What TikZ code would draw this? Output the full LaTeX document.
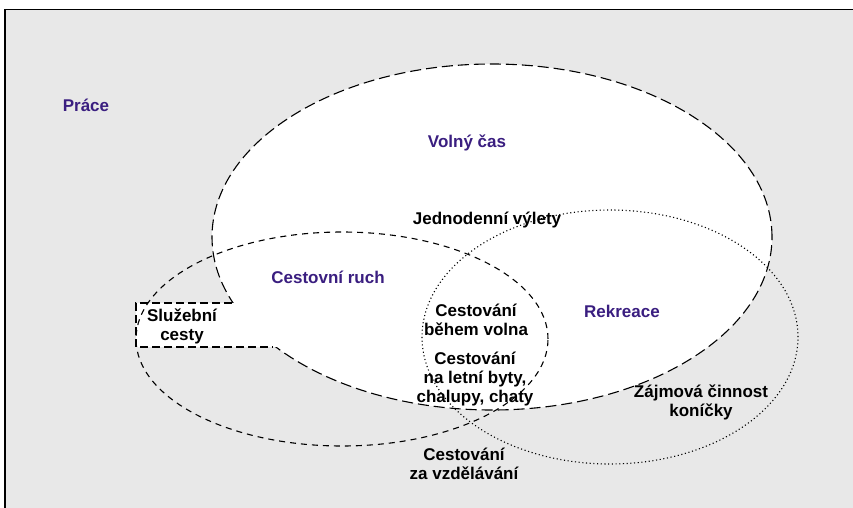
\documentclass[tikz,border=0pt]{standalone}
\usepackage{fontspec}
\setmainfont{Liberation Sans}
\definecolor{fialova}{RGB}{58,30,128}
\definecolor{seda}{RGB}{232,232,232}
\tikzset{popis/.style={font=\bfseries\fontsize{17}{19}\selectfont,align=center,inner sep=0pt},
  nadpis/.style={popis,text=fialova},
  carka/.style={line width=1.1pt,dash pattern=on 11pt off 5pt},
  kratka/.style={line width=1.1pt,dash pattern=on 6pt off 5pt},
  tecka/.style={line width=1.1pt,dash pattern=on 1.1pt off 2.6pt}}
\begin{document}
\begin{tikzpicture}[x=1pt,y=-1pt]
\useasboundingbox(0,0)rectangle(853,508);
\fill[seda](5,9.5)rectangle(853,508);
\draw[line width=1.6pt](5,508)--(5,9.5)--(853,9.5);
\fill[white](492,237)ellipse[x radius=280pt,y radius=173pt];
\draw[carka](492,237)ellipse[x radius=280pt,y radius=173pt];
\fill[white](136,303)rectangle(285,347);
\draw[line width=1.1pt,dash pattern=on 8pt off 4pt](232,303)--(136,303)--(136,347)--(273,347);
\draw[kratka](342,339)ellipse[x radius=206pt,y radius=107pt];
\draw[tecka](610,337)ellipse[x radius=188pt,y radius=127pt];
\node[nadpis](prace)at(86,105){Práce};
\node[nadpis](volny)at(467,143){Volný čas};
\node[popis](jednodenni)at(487,220){Jednodenní výlety};
\node[nadpis](ruch)at(328,277){Cestovní ruch};
\node[popis](sluzebni)at(182,326){Služební\\cesty};
\node[popis](volno)at(476,320){Cestování\\během volna};
\node[nadpis](rekreace)at(622,311){Rekreace};
\node[popis](chaty)at(475,379){Cestování\\na letní byty,\\chalupy, chaty};
\node[popis](zajmy)at(701,402){Zájmová činnost\\koníčky};
\node[popis](vzdelani)at(464,464){Cestování\\za vzdělávání};
\end{tikzpicture}
\end{document}
